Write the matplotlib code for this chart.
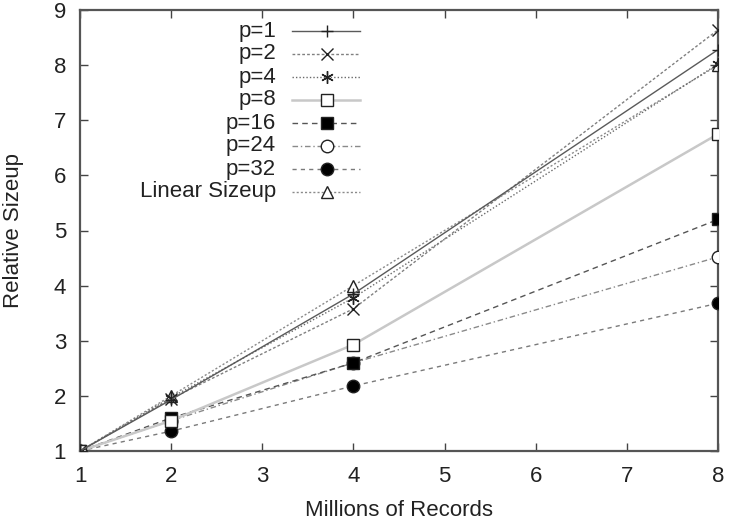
import matplotlib
matplotlib.use("Agg")
import matplotlib.pyplot as plt

plt.rcParams["font.family"] = ["Liberation Sans", "DejaVu Sans"]

# === data ===
records = [1, 2, 4, 8]
labels = ["p=1", "p=2", "p=4", "p=8", "p=16", "p=24", "p=32", "Linear Sizeup"]
p1 = [1, 1.93, 3.85, 8.28]
p2 = [1, 1.95, 3.58, 8.64]
p4 = [1, 1.97, 3.78, 8.02]
p8 = [1, 1.55, 2.93, 6.75]
p16 = [1, 1.60, 2.60, 5.20]
p24 = [1, 1.55, 2.60, 4.52]
p32 = [1, 1.36, 2.18, 3.68]
linear = [1, 2, 4, 8]
series = [p1, p2, p4, p8, p16, p24, p32, linear]

# === styles (gnuplot-ish monochrome) ===
styles = [
    dict(color="#5a5a5a", ls="-", lw=1.0, marker="+", mfc="none"),
    dict(color="#808080", ls=(0, (2, 1.5)), lw=1.0, marker="x", mfc="none"),
    dict(color="#6a6a6a", ls=(0, (1, 1.5)), lw=1.0, marker=(6, 2, 0), mfc="none"),
    dict(color="#c8c8c8", ls="-", lw=1.8, marker="s", mfc="white"),
    dict(color="#555555", ls=(0, (4, 3)), lw=1.0, marker="s", mfc="black"),
    dict(color="#8a8a8a", ls=(0, (4, 2, 1, 2)), lw=1.0, marker="o", mfc="white"),
    dict(color="#7a7a7a", ls=(0, (3, 3)), lw=1.0, marker="o", mfc="black"),
    dict(color="#8a8a8a", ls=(0, (1.5, 1.5)), lw=1.0, marker="^", mfc="white"),
]

FS = 16

fig = plt.figure(figsize=(7.3, 5.23), dpi=100)
ax = fig.add_axes([80 / 730, 72 / 523, 638 / 730, 441 / 523])

# later keys drawn underneath, so p=16 squares sit on top of the circles
n = len(series)
for i, (ys, st) in enumerate(zip(series, styles)):
    ax.plot(records, ys, color=st["color"], ls=st["ls"], lw=st["lw"],
            marker=st["marker"], ms=9, mfc=st["mfc"], mec="#222222", mew=1.0,
            zorder=3 + (n - i) * 0.1)

ax.set_xlim(1, 8)
ax.set_ylim(1, 9)
ax.set_xticks(range(1, 9))
ax.set_yticks(range(1, 10))
ax.tick_params(direction="in", top=True, right=True, length=6, width=1,
               color="#444444", labelsize=FS, labelcolor="#222222")
ax.tick_params(axis="x", pad=11)
ax.tick_params(axis="y", pad=10)
for s in ax.spines.values():
    s.set_color("#555555")
    s.set_linewidth(1.6)

ax.set_xlabel("Millions of Records", fontsize=FS, labelpad=9, color="#222222")
ax.set_ylabel("Relative Sizeup", fontsize=FS, labelpad=21, color="#222222")

# gnuplot style key: right-aligned text, sample line to the right
for i, (lab, st) in enumerate(zip(labels, styles)):
    yk = 1 - (21 + 23 * i) / 441
    ax.text((276 - 80) / 638, yk, lab, transform=ax.transAxes, ha="right",
            va="center", fontsize=FS, color="#222222")
    ax.plot([(292 - 80) / 638, (360 - 80) / 638], [yk, yk], transform=ax.transAxes,
            color=st["color"], ls=st["ls"], lw=st["lw"], clip_on=False)
    ax.plot([(327 - 80) / 638], [yk], transform=ax.transAxes, ls="none",
            marker=st["marker"], ms=9, mfc=st["mfc"], mec="#222222", mew=1.0,
            clip_on=False)

fig.savefig("out.png", dpi=100)
